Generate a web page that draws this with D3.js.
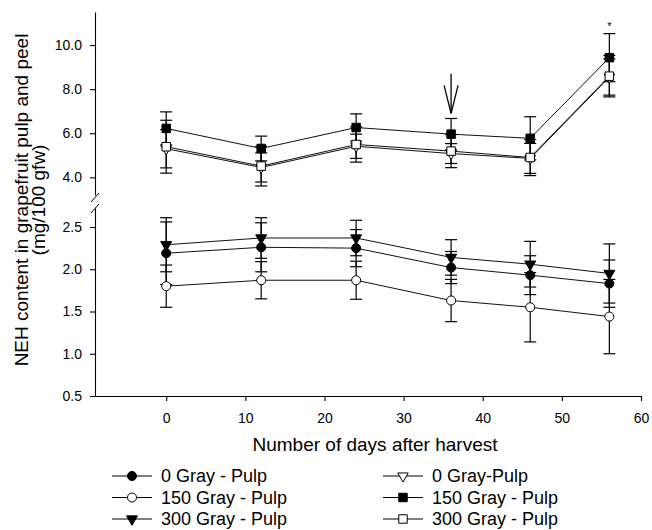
<!DOCTYPE html>
<html>
<head>
<meta charset="utf-8">
<script src="https://cdn.jsdelivr.net/npm/d3@7"></script>
<style>
  body { margin: 0; background: #fff; }
  text { font-family: "Liberation Sans", Arial, sans-serif; fill: #000; }
</style>
</head>
<body>
<script>
// days after harvest
const days = [0, 12, 24, 36, 46, 56];

// pulp (lower panel)
const pulp0 = [2.19, 2.26, 2.25, 2.02, 1.93, 1.83];
const pulp0Err = [0.37, 0.29, 0.22, 0.19, 0.23, 0.28];
const pulp150 = [1.80, 1.87, 1.87, 1.63, 1.55, 1.44];
const pulp150Err = [0.25, 0.22, 0.225, 0.25, 0.41, 0.44];
const pulp300 = [2.29, 2.37, 2.37, 2.14, 2.06, 1.95];
const pulp300Err = [0.32, 0.24, 0.21, 0.21, 0.27, 0.35];

// peel (upper panel)
const peel0 = [5.30, 4.45, 5.41, 5.08, 4.86, 8.55];
const peel0Err = [0.87, 0.66, 0.55, 0.45, 0.68, 0.82];
const peel150 = [6.22, 5.31, 6.26, 5.96, 5.77, 9.43];
const peel150Err = [0.75, 0.56, 0.62, 0.71, 0.98, 1.09];
const peel300 = [5.39, 4.51, 5.49, 5.19, 4.90, 8.59];
const peel300Err = [1.2, 0.9, 0.8, 0.75, 0.82, 0.94];

const xTicks = [0, 10, 20, 30, 40, 50, 60];
const topTicks = [4, 6, 8, 10];
const bottomTicks = [0.5, 1.0, 1.5, 2.0, 2.5];

const legendLabels = ["0 Gray - Pulp", "150 Gray - Pulp", "300 Gray - Pulp",
                      "0 Gray-Pulp", "150 Gray - Pulp", "300 Gray - Pulp"];

// arrow at day 36 and asterisk at day 56 (upper panel values)
const arrowDay = 36, arrowFrom = 8.7, arrowTo = 6.9;
const starDay = 56;

const svg = d3.select("body").append("svg")
    .attr("width", 652)
    .attr("height", 530);

// scales
const x = d3.scaleLinear().domain([-9, 60]).range([95, 641]);
const yTop = d3.scaleLinear().domain([3.2, 11.5]).range([195, 12]);
const yBot = d3.scaleLinear().domain([0.5, 2.725]).range([396, 208]);

// series definitions (symbol, fill, scale)
const series = [
    {name: "peel0", vals: peel0, err: peel0Err, sym: d3.symbolTriangle, down: true, fill: "#fff", y: yTop, size: 48},
    {name: "peel300", vals: peel300, err: peel300Err, sym: d3.symbolSquare, fill: "#fff", y: yTop, size: 72},
    {name: "peel150", vals: peel150, err: peel150Err, sym: d3.symbolSquare, fill: "#000", y: yTop, size: 72},
    {name: "pulp150", vals: pulp150, err: pulp150Err, sym: d3.symbolCircle, fill: "#fff", y: yBot, size: 64},
    {name: "pulp0", vals: pulp0, err: pulp0Err, sym: d3.symbolCircle, fill: "#000", y: yBot, size: 64},
    {name: "pulp300", vals: pulp300, err: pulp300Err, sym: d3.symbolTriangle, down: true, fill: "#000", y: yBot, size: 52},
];

// x axis
const xAxis = svg.append("g")
    .attr("transform", `translate(0, ${yBot.range()[0]})`)
    .call(d3.axisBottom(x).tickValues(xTicks).tickSize(5).tickSizeOuter(0).tickPadding(12));
xAxis.selectAll("text").style("font-size", "14px");

// y axes (two segments with a break)
const topAxis = svg.append("g")
    .attr("transform", "translate(95, 0)")
    .call(d3.axisLeft(yTop).tickValues(topTicks).tickFormat(d3.format(".1f")).tickSize(5).tickSizeOuter(0).tickPadding(8));
topAxis.selectAll("text").style("font-size", "14px");

const botAxis = svg.append("g")
    .attr("transform", "translate(95, 0)")
    .call(d3.axisLeft(yBot).tickValues(bottomTicks).tickFormat(d3.format(".1f")).tickSize(5).tickSizeOuter(0).tickPadding(8));
botAxis.selectAll("text").style("font-size", "14px");

svg.selectAll(".domain, .tick line").attr("stroke", "#000").attr("stroke-width", 1.1);

// break marks
const brk = svg.append("g").attr("stroke", "#000").attr("stroke-width", 1);
[yTop.range()[0] + 7, yBot.range()[1] + 5].forEach(yy => {
    brk.append("line").attr("x1", 91).attr("y1", yy).attr("x2", 99).attr("y2", yy - 9);
});

// lines
const plot = svg.append("g");
series.forEach(s => {
    const line = d3.line().x((d, i) => x(days[i])).y(d => s.y(d));
    plot.append("path")
        .datum(s.vals)
        .attr("fill", "none")
        .attr("stroke", "#111")
        .attr("stroke-width", 1)
        .attr("d", line);
});

// error bars
series.forEach(s => {
    const g = plot.append("g").attr("stroke", "#000").attr("stroke-width", 1.2);
    s.vals.forEach((v, i) => {
        const cx = x(days[i]);
        const hi = s.y(v + s.err[i]), lo = s.y(v - s.err[i]);
        g.append("line").attr("x1", cx).attr("x2", cx).attr("y1", hi).attr("y2", lo);
        g.append("line").attr("x1", cx - 6).attr("x2", cx + 6).attr("y1", hi).attr("y2", hi);
        g.append("line").attr("x1", cx - 6).attr("x2", cx + 6).attr("y1", lo).attr("y2", lo);
    });
});

// markers
series.forEach(s => {
    plot.append("g").selectAll("path")
        .data(s.vals)
        .join("path")
        .attr("d", d3.symbol().type(s.sym).size(s.size))
        .attr("transform", (d, i) => `translate(${x(days[i])}, ${s.y(d)})` + (s.down ? " rotate(180)" : ""))
        .attr("fill", s.fill)
        .attr("stroke", "#000")
        .attr("stroke-width", 1);
});

// arrow annotation
const ax = x(arrowDay);
const arrow = svg.append("g").attr("stroke", "#000").attr("stroke-width", 1.3).attr("fill", "none");
arrow.append("line").attr("x1", ax).attr("x2", ax).attr("y1", yTop(arrowFrom)).attr("y2", yTop(arrowTo));
arrow.append("path")
    .attr("d", `M${ax - 7},${yTop(arrowTo) - 28}L${ax},${yTop(arrowTo)}L${ax + 7},${yTop(arrowTo) - 28}`);

svg.append("text")
    .attr("x", x(starDay))
    .attr("y", yTop(peel150[5] + peel150Err[5]) - 4)
    .attr("text-anchor", "middle")
    .style("font-size", "11px")
    .text("*");

// axis titles
svg.append("text")
    .attr("x", 375)
    .attr("y", 451)
    .attr("text-anchor", "middle")
    .style("font-size", "19px")
    .text("Number of days after harvest");

const yTitle = svg.append("text")
    .attr("transform", "translate(0, 200) rotate(-90)")
    .attr("text-anchor", "middle")
    .style("font-size", "19px");
yTitle.append("tspan").attr("x", 0).attr("y", 28).text("NEH content in grapefruit pulp and peel");
yTitle.append("tspan").attr("x", 0).attr("y", 45).text("(mg/100 gfw)");

// legend
const legendSyms = [series[4], series[3], series[5], series[0], series[2], series[1]];
const legend = svg.append("g");
legendLabels.forEach((lab, i) => {
    const col = Math.floor(i / 3), row = i % 3;
    const lx = col === 0 ? 112 : 383;
    const ly = 476 + row * 21.5;
    const s = legendSyms[i];
    const g = legend.append("g").attr("transform", `translate(${lx}, ${ly})`);
    g.append("line").attr("x1", 0).attr("x2", 40).attr("y1", 0).attr("y2", 0)
        .attr("stroke", "#000").attr("stroke-width", 1.2);
    g.append("path")
        .attr("d", d3.symbol().type(s.sym).size(s.size))
        .attr("transform", "translate(20, 0)" + (s.down ? " rotate(180)" : ""))
        .attr("fill", s.fill)
        .attr("stroke", "#000");
    g.append("text")
        .attr("x", 49)
        .attr("y", 0)
        .attr("dy", "0.36em")
        .style("font-size", "18px")
        .text(lab);
});
</script>
</body>
</html>
